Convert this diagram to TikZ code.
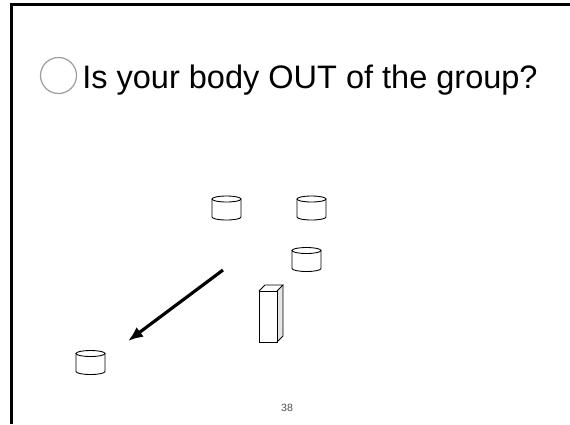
\documentclass[tikz,border=0pt]{standalone}
\usepackage{fontspec}
\setmainfont{Liberation Sans}
\usetikzlibrary{arrows.meta}
\tikzset{
  drum/.pic={
    \coordinate (-c) at (0,0);
    \draw[line width=0.5pt, fill=white] (-14.5,-9) -- (-14.5,9)
      arc[start angle=180, end angle=0, x radius=14.5, y radius=3] -- (14.5,-9);
    \draw[line width=0.5pt] (0,-9) ellipse[x radius=14.5, y radius=3];
  },
  push/.style={line width=1.8pt, -{Latex[length=0.3cm,width=0.24cm]}}
}
\begin{document}
\begin{tikzpicture}[x=0.02cm,y=-0.02cm]
  \useasboundingbox (0,0) rectangle (570,424);
  % Frame
  \draw[line width=1.5pt] (11.5,424) -- (11.5,4.5) -- (570,4.5);

  % Title
  \node[circle, draw=gray!75, line width=0.7pt, minimum size=0.72cm, inner sep=0pt] (bullet) at (58.5,75.5) {};
  \node[anchor=base west, inner sep=0pt, font=\fontsize{18.5}{20}\selectfont] (title) at (82,88) {Is your body OUT of the group?};

  % Group
  \pic (drumA) at (226.5,208) {drum};
  \pic (drumB) at (311.5,208) {drum};
  \pic (drumC) at (306.5,259.5) {drum};

  % Body
  \fill[gray!20] (277,291) -- (283,285) -- (283,336) -- (277,342) -- cycle;
  \draw[line width=0.5pt] (259,291) rectangle (277,342);
  \draw[line width=0.5pt] (259,291) -- (265,285) -- (283,285) -- (277,291);
  \draw[line width=0.5pt] (283,285) -- (283,336) -- (277,342);

  % Out
  \pic (drumD) at (90.5,362.5) {drum};
  \coordinate (start) at (223,270);
  \coordinate (stop) at (128,341);
  \draw[push] (start) -- (stop);

  % Page number
  \node[text=gray!60!black, font=\fontsize{6}{7}\selectfont] (page) at (287,408) {38};
\end{tikzpicture}
\end{document}
